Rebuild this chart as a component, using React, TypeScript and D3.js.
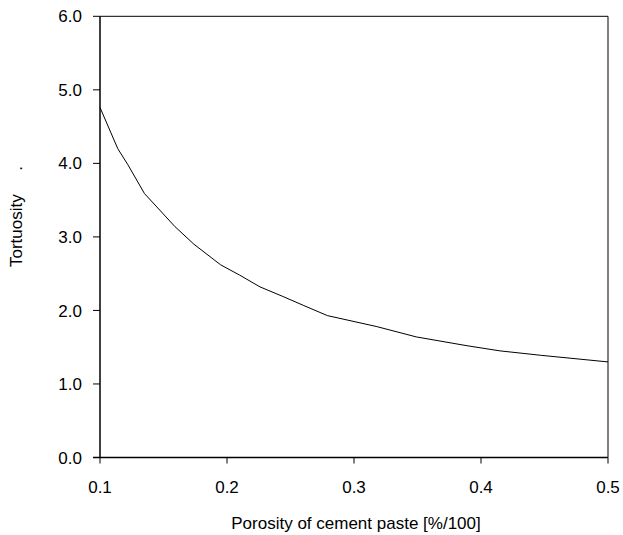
import React from "react";
import * as d3 from "d3";

// Porosity of cement paste (fraction) and the corresponding tortuosity
const porosity = [0.1, 0.114, 0.122, 0.135, 0.159, 0.174, 0.195, 0.21, 0.226, 0.244, 0.26, 0.279, 0.318, 0.349, 0.389, 0.415, 0.447, 0.5];
const tortuosity = [4.76, 4.2, 3.98, 3.59, 3.14, 2.9, 2.62, 2.48, 2.32, 2.19, 2.07, 1.93, 1.78, 1.64, 1.52, 1.45, 1.39, 1.3];

const xTicks = [0.1, 0.2, 0.3, 0.4, 0.5];
const yTicks = [0, 1, 2, 3, 4, 5, 6];

const W = 623;
const H = 535;
const left = 100;
const right = 608;
const top = 16.3;
const bottom = 457.5;
const FONT = "'Liberation Sans', Arial, sans-serif";
const FS = 17;

export default function App() {
  const x = d3.scaleLinear().domain([0.1, 0.5]).range([left, right]);
  const y = d3.scaleLinear().domain([0, 6]).range([bottom, top]);

  const pts = porosity.map((p, i) => [p, tortuosity[i]] as [number, number]);
  const line = d3
    .line<[number, number]>()
    .x((d) => x(d[0]))
    .y((d) => y(d[1]));

  return (
    <svg
      width={W}
      height={H}
      style={{ position: "absolute", left: 0, top: 0, background: "#fff" }}
      fontFamily={FONT}
    >
      {/* frame: top and right edges */}
      <line x1={left} x2={right} y1={top} y2={top} stroke="#000" strokeWidth={1} />
      <line x1={right} x2={right} y1={top} y2={bottom} stroke="#000" strokeWidth={1} />

      {/* y axis */}
      <line x1={left} x2={left} y1={top} y2={bottom} stroke="#000" strokeWidth={1.5} />
      {yTicks.map((t) => (
        <g key={`y${t}`}>
          <line x1={left - 7} x2={left} y1={y(t)} y2={y(t)} stroke="#000" strokeWidth={1} />
          <text x={82} y={y(t)} dy="0.36em" textAnchor="end" fontSize={FS} fill="#000">
            {t.toFixed(1)}
          </text>
        </g>
      ))}

      {/* x axis */}
      <line x1={left - 7} x2={right} y1={bottom} y2={bottom} stroke="#000" strokeWidth={1.5} />
      {xTicks.map((t) => (
        <g key={`x${t}`}>
          <line x1={x(t)} x2={x(t)} y1={bottom} y2={bottom + 6} stroke="#000" strokeWidth={1} />
          <text x={x(t)} y={493} textAnchor="middle" fontSize={FS} fill="#000">
            {t.toFixed(1)}
          </text>
        </g>
      ))}

      {/* curve */}
      <path d={line(pts) ?? ""} fill="none" stroke="#000" strokeWidth={1} />

      {/* axis titles */}
      <text x={356} y={529} textAnchor="middle" fontSize={FS} fill="#000">
        Porosity of cement paste [%/100]
      </text>
      <text
        transform="translate(22,267) rotate(-90)"
        textAnchor="start"
        fontSize={FS}
        fill="#000"
        style={{ whiteSpace: "pre" }}
      >
        {"Tortuosity     ."}
      </text>
    </svg>
  );
}
